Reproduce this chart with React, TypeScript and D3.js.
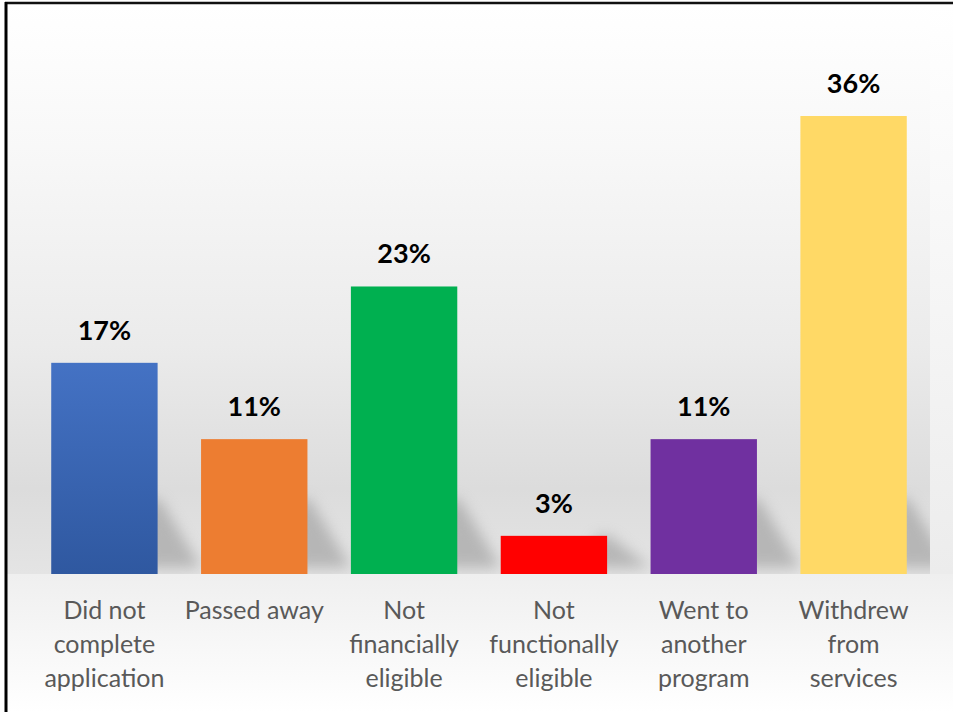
import React from "react";
import * as d3 from "d3";

const categories: string[][] = [
  ["Did not", "complete", "application"],
  ["Passed away"],
  ["Not", "financially", "eligible"],
  ["Not", "functionally", "eligible"],
  ["Went to", "another", "program"],
  ["Withdrew", "from", "services"],
];
const keys = ["dnc", "pa", "nfin", "nfun", "went", "wd"];
const values = [0.166, 0.106, 0.226, 0.03, 0.106, 0.36];
const colors = ["#4472C4", "#ED7D31", "#00B050", "#FF0000", "#7030A0", "#FFD966"];
const colorsDark = ["#2F58A0", "#ED7D31", "#00B050", "#FF0000", "#7030A0", "#FFD966"];

const W = 953;
const H = 712;

export default function App() {
  const x = d3.scaleBand<string>().domain(keys).range([29.5, 928.5]).paddingInner(0.29).paddingOuter(0.145);
  const y = d3.scaleLinear().domain([0, 0.4]).range([574, 574 - 0.4 * 1272.2]);
  const base = y(0);
  const fmt = d3.format(".0%");
  const bw = x.bandwidth();

  return (
    <svg width={W} height={H} style={{ position: "absolute", left: 0, top: 0, background: "#fff" }}>
      <defs>
        <linearGradient id="wall" x1="0" y1="0" x2="0" y2="1">
          <stop offset="0" stopColor="#ffffff" />
          <stop offset="0.25" stopColor="#f8f8f8" />
          <stop offset="0.6" stopColor="#ebebeb" />
          <stop offset="0.85" stopColor="#dcdcdc" />
          <stop offset="1" stopColor="#e4e4e4" />
        </linearGradient>
        <linearGradient id="floor" x1="0" y1="0" x2="0" y2="1">
          <stop offset="0" stopColor="#efefef" />
          <stop offset="1" stopColor="#ffffff" />
        </linearGradient>
        <linearGradient id="side" x1="0" y1="0" x2="0" y2="1">
          <stop offset="0" stopColor="#ffffff" />
          <stop offset="0.7" stopColor="#f2f2f2" />
          <stop offset="1" stopColor="#ececec" />
        </linearGradient>
        <linearGradient id="blueG" x1="0" y1="0" x2="0" y2="1">
          <stop offset="0" stopColor={colors[0]} />
          <stop offset="1" stopColor={colorsDark[0]} />
        </linearGradient>
        <filter id="blur" x="-50%" y="-50%" width="200%" height="200%">
          <feGaussianBlur stdDeviation="7" />
        </filter>
        <clipPath id="plotClip">
          <rect x={7} y={0} width={923} height={base} />
        </clipPath>
      </defs>

      <rect x={930} y={4} width={23} height={base - 4} fill="url(#side)" />
      <rect x={7} y={4} width={923} height={base - 4} fill="url(#wall)" />
      <rect x={7} y={base} width={946} height={H - base} fill="url(#floor)" />

      <g clipPath="url(#plotClip)">
        {keys.map((k, i) => {
          const x0 = x(k)!;
          const x1 = x0 + bw;
          const h = base - y(values[i]);
          const sh = Math.min(h, 75);
          const pts = [
            [x1 - 12, base - sh],
            [x1 + 2, base - sh],
            [x1 + 44, base - 6],
            [x1 - 12, base - 6],
          ];
          return (
            <polygon
              key={"s" + k}
              points={pts.map((p) => p.join(",")).join(" ")}
              fill="#9a9a9a"
              opacity={0.6}
              filter="url(#blur)"
            />
          );
        })}
      </g>

      {keys.map((k, i) => (
        <rect
          key={k}
          x={x(k)}
          y={y(values[i])}
          width={bw}
          height={base - y(values[i])}
          fill={i === 0 ? "url(#blueG)" : colors[i]}
        />
      ))}

      {keys.map((k, i) => (
        <text
          key={"v" + k}
          x={x(k)! + bw / 2}
          y={y(values[i]) - 23}
          textAnchor="middle"
          fontFamily="Lato, 'Open Sans', sans-serif"
          fontWeight="bold"
          fontSize={27}
          fill="#000"
        >
          {fmt(values[i])}
        </text>
      ))}

      {keys.map((k, i) => (
        <text
          key={"c" + k}
          textAnchor="middle"
          fontFamily="Lato, 'Open Sans', sans-serif"
          fontSize={25}
          fill="#595959"
        >
          {categories[i].map((line, j) => (
            <tspan key={j} x={x(k)! + bw / 2} y={619 + j * 34}>
              {line}
            </tspan>
          ))}
        </text>
      ))}

      <line x1={5} y1={3} x2={W} y2={3} stroke="#111" strokeWidth={2.5} />
      <line x1={6} y1={2} x2={6} y2={H} stroke="#000" strokeWidth={3} />
    </svg>
  );
}
